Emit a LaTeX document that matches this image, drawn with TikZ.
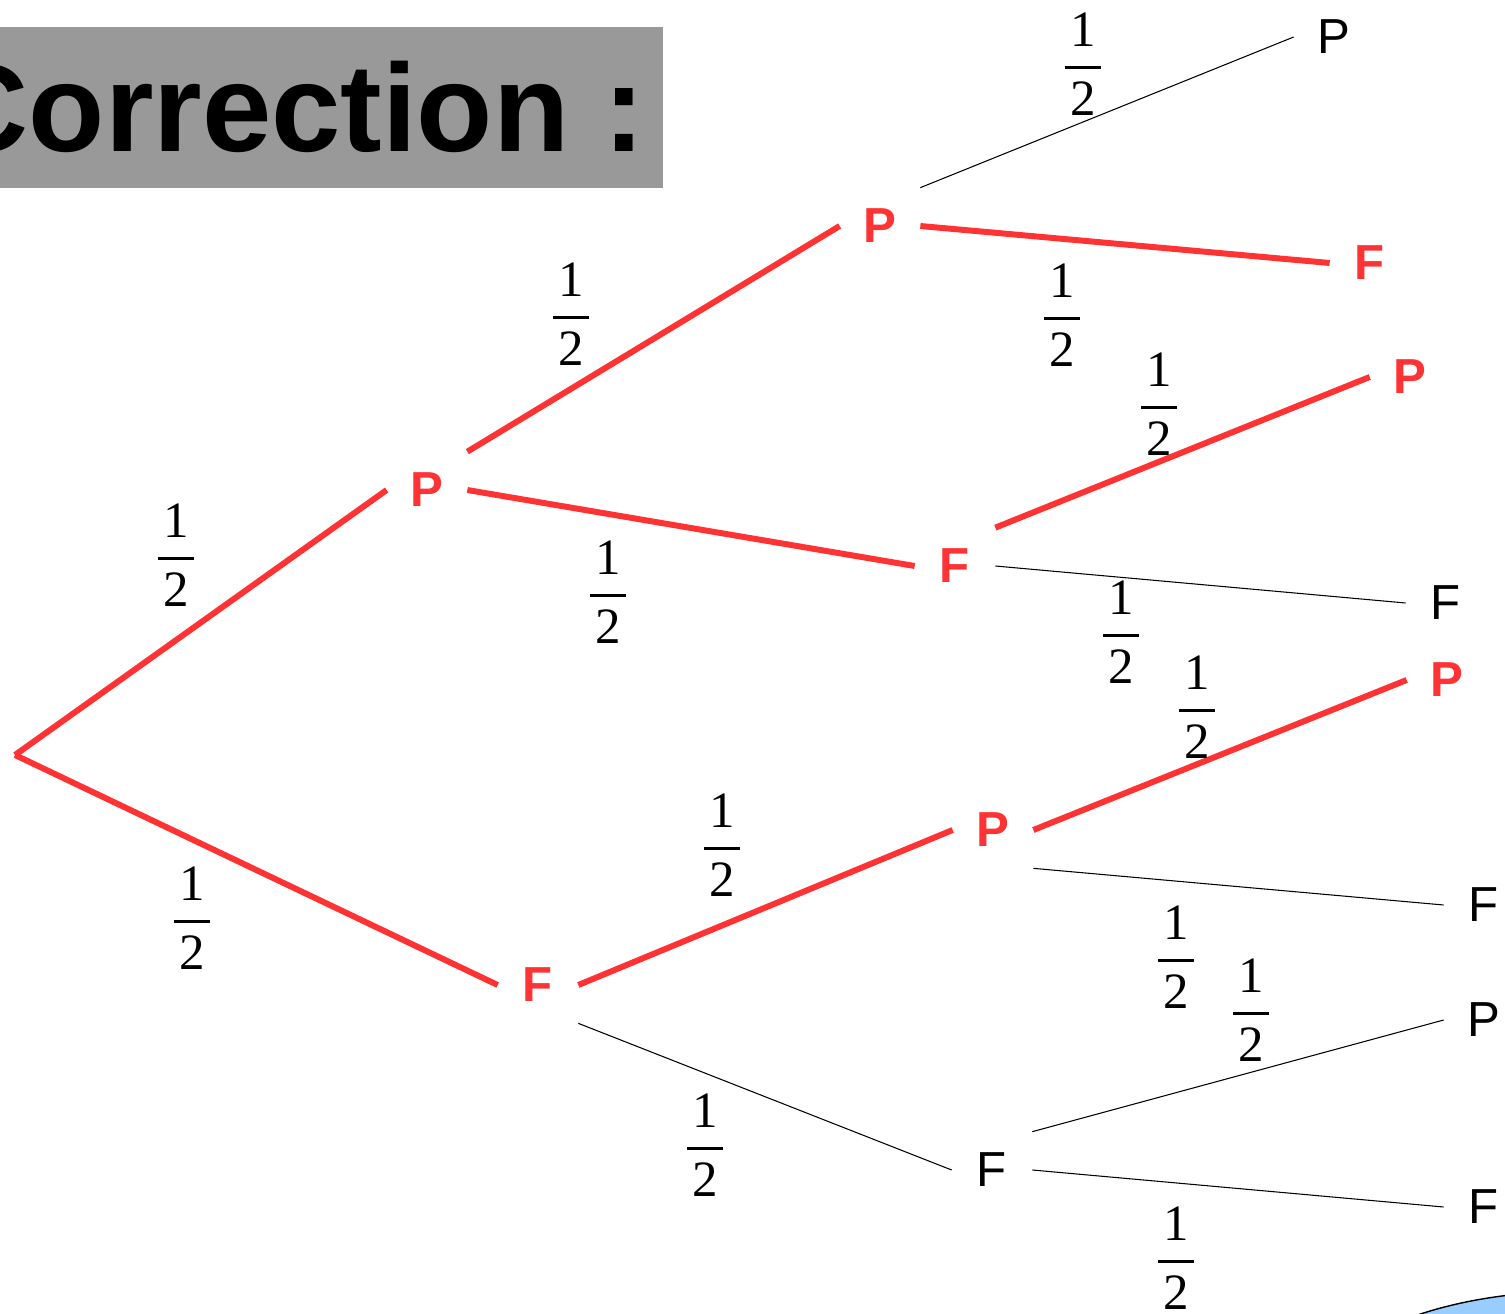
\documentclass[tikz,border=0pt]{standalone}
\usepackage{fix-cm}
\usepackage{fontspec}
\setmainfont{Liberation Serif}
\setsansfont{Liberation Sans}
\usepackage{tikz}
\usetikzlibrary{positioning}
\definecolor{treered}{HTML}{FF3333}
\definecolor{titlegray}{HTML}{999999}
\definecolor{bubble}{HTML}{99CCFF}
\tikzstyle{leaf}=[minimum width=1.6cm,minimum height=1.52cm,inner sep=0pt,font=\sffamily\fontsize{28}{30}\selectfont]
\tikzstyle{hot}=[leaf,text=treered,font=\sffamily\bfseries\fontsize{28}{30}\selectfont]
\tikzstyle{prob}=[inner sep=0pt,font=\rmfamily\fontsize{29}{34}\selectfont]
\tikzstyle{red edge}=[draw=treered,line width=3.4pt]
\tikzstyle{thin edge}=[draw=black,line width=0.6pt]
\newcommand{\halfprob}{$\displaystyle{\kern3pt\mbox{1}\kern3pt\above1.6pt\mbox{2}}$}

\begin{document}
\begin{tikzpicture}[x=0.02cm,y=-0.02cm]
\useasboundingbox (0,0) rectangle (1505,1314);
\clip (0,0) rectangle (1505,1314);

% title
\fill[titlegray] (0,27) rectangle (663,188);
\node[anchor=base east,inner sep=0pt,font=\sffamily\bfseries\fontsize{71}{80}\selectfont] (title) at (646,152) {Correction :};

% bubble in the corner
\draw[fill=bubble,line width=0.8pt] (1580,1391) ellipse [x radius=5cm,y radius=2cm];

% the tree
\coordinate (root) at (15,755);
\node[hot] (p1) at (427,490) {P};
\node[hot] (f1) at (538,985) {F};

\node[hot] (pp) at (880,226) {P};
\node[hot] (pf) at (955,566) {F};
\node[hot] (fp) at (993,830) {P};
\node[leaf] (ff) at (992,1170) {F};

\node[leaf] (ppp) at (1334,37) {P};
\node[hot] (ppf) at (1370,263) {F};
\node[hot] (pfp) at (1410,377) {P};
\node[leaf] (pff) at (1446,603) {F};
\node[hot] (fpp) at (1447,680) {P};
\node[leaf] (fpf) at (1484,905) {F};
\node[leaf] (ffp) at (1484,1020) {P};
\node[leaf] (fff) at (1484,1207) {F};

\draw[red edge] (root) -- (p1.west);
\draw[red edge] (root) -- (f1.west);
\draw[red edge] (p1.north east) -- (pp.west);
\draw[red edge] (p1.east) -- (pf.west);
\draw[red edge] (f1.east) -- (fp.west);
\draw[thin edge] (f1.south east) -- (ff.west);

\draw[thin edge] (pp.north east) -- (ppp.west);
\draw[red edge] (pp.east) -- (ppf.west);
\draw[red edge] (pf.north east) -- (pfp.west);
\draw[thin edge] (pf.east) -- (pff.west);
\draw[red edge] (fp.east) -- (fpp.west);
\draw[thin edge] (fp.south east) -- (fpf.west);
\draw[thin edge] (ff.north east) -- (ffp.west);
\draw[thin edge] (ff.east) -- (fff.west);

% probabilities
\node[prob] (q1) at (176,555) {\halfprob};
\node[prob] (q2) at (192,918) {\halfprob};
\node[prob] (q3) at (571,314) {\halfprob};
\node[prob] (q4) at (608,592) {\halfprob};
\node[prob] (q5) at (722,845) {\halfprob};
\node[prob] (q6) at (705,1145) {\halfprob};
\node[prob] (q7) at (1083,64) {\halfprob};
\node[prob] (q8) at (1062,315) {\halfprob};
\node[prob] (q9) at (1159,404) {\halfprob};
\node[prob] (q10) at (1121,632) {\halfprob};
\node[prob] (q11) at (1197,707) {\halfprob};
\node[prob] (q12) at (1176,957) {\halfprob};
\node[prob] (q13) at (1251,1010) {\halfprob};
\node[prob] (q14) at (1176,1258) {\halfprob};
\end{tikzpicture}
\end{document}
